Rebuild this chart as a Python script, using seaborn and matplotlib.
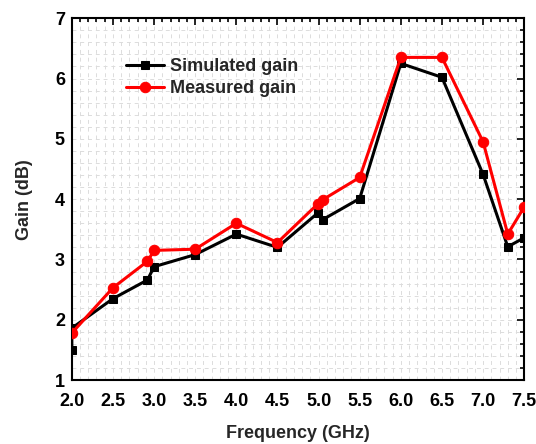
import matplotlib
matplotlib.use("Agg")
import matplotlib.pyplot as plt
import seaborn as sns
import pandas as pd
from matplotlib.ticker import MultipleLocator, FormatStrFormatter

sim_freq = [2.0, 2.0, 2.5, 2.92, 3.0, 3.5, 4.0, 4.5, 4.99, 5.05, 5.5, 6.0, 6.5, 7.0, 7.3, 7.5]
sim_gain = [1.5, 1.86, 2.35, 2.66, 2.88, 3.08, 3.42, 3.2, 3.77, 3.66, 4.01, 6.25, 6.02, 4.41, 3.21, 3.36]
meas_freq = [2.0, 2.5, 2.92, 3.0, 3.5, 4.0, 4.5, 4.99, 5.05, 5.5, 6.0, 6.5, 7.0, 7.3, 7.5]
meas_gain = [1.78, 2.53, 2.97, 3.15, 3.17, 3.6, 3.28, 3.92, 3.99, 4.36, 6.35, 6.35, 4.95, 3.42, 3.87]

sns.set_style("white")
plt.rcParams['font.family'] = ['Liberation Sans', 'DejaVu Sans']
plt.rcParams['font.weight'] = 'bold'
plt.rcParams['axes.labelweight'] = 'bold'

fig = plt.figure(figsize=(5.36, 4.44), dpi=100)
ax = fig.add_axes([0.134, 0.144, 0.844, 0.815])

sim = pd.DataFrame({"f": sim_freq, "g": sim_gain})
meas = pd.DataFrame({"f": meas_freq, "g": meas_gain})

sns.lineplot(data=sim, x="f", y="g", ax=ax, sort=False, estimator=None, color="black",
             marker="s", markersize=6, linewidth=2.2, markeredgecolor="black",
             label="Simulated gain", zorder=3)
sns.lineplot(data=meas, x="f", y="g", ax=ax, sort=False, estimator=None, color="red",
             marker="o", markersize=7.5, linewidth=2.2, markeredgecolor="red",
             label="Measured gain", zorder=4)

ax.set_xlim(2.0, 7.5)
ax.set_ylim(1, 7)
ax.xaxis.set_major_locator(MultipleLocator(0.5))
ax.xaxis.set_minor_locator(MultipleLocator(0.1))
ax.yaxis.set_major_locator(MultipleLocator(1))
ax.yaxis.set_minor_locator(MultipleLocator(0.2))
ax.xaxis.set_major_formatter(FormatStrFormatter('%.1f'))

ax.grid(True, which='both', linestyle=(0, (4, 4)), color='#dcdcdc', linewidth=0.7)
ax.set_axisbelow(True)

ax.tick_params(which='both', direction='in', top=True, right=True, colors='black',
               labelsize=13, width=1.2)
ax.tick_params(axis='x', which='major', length=5, pad=9)
ax.tick_params(axis='y', which='major', length=5, pad=5)
ax.tick_params(which='minor', length=3)

for s in ax.spines.values():
    s.set_color('black')
    s.set_linewidth(1.5)

ax.set_xlabel("Frequency (GHz)", fontsize=13, fontweight='bold', labelpad=11)
ax.set_ylabel("Gain (dB)", fontsize=13, fontweight='bold', labelpad=16)

fig.canvas.draw()
for lab in ax.get_xticklabels() + ax.get_yticklabels():
    lab.set_fontweight('bold')

leg = ax.legend(loc='upper left', bbox_to_anchor=(0.104, 0.91), frameon=False,
                prop={'weight': 'bold', 'size': 13}, handlelength=2.1,
                handletextpad=0.35, labelspacing=0.3, borderaxespad=0)

fig.savefig("out.png", dpi=100)
